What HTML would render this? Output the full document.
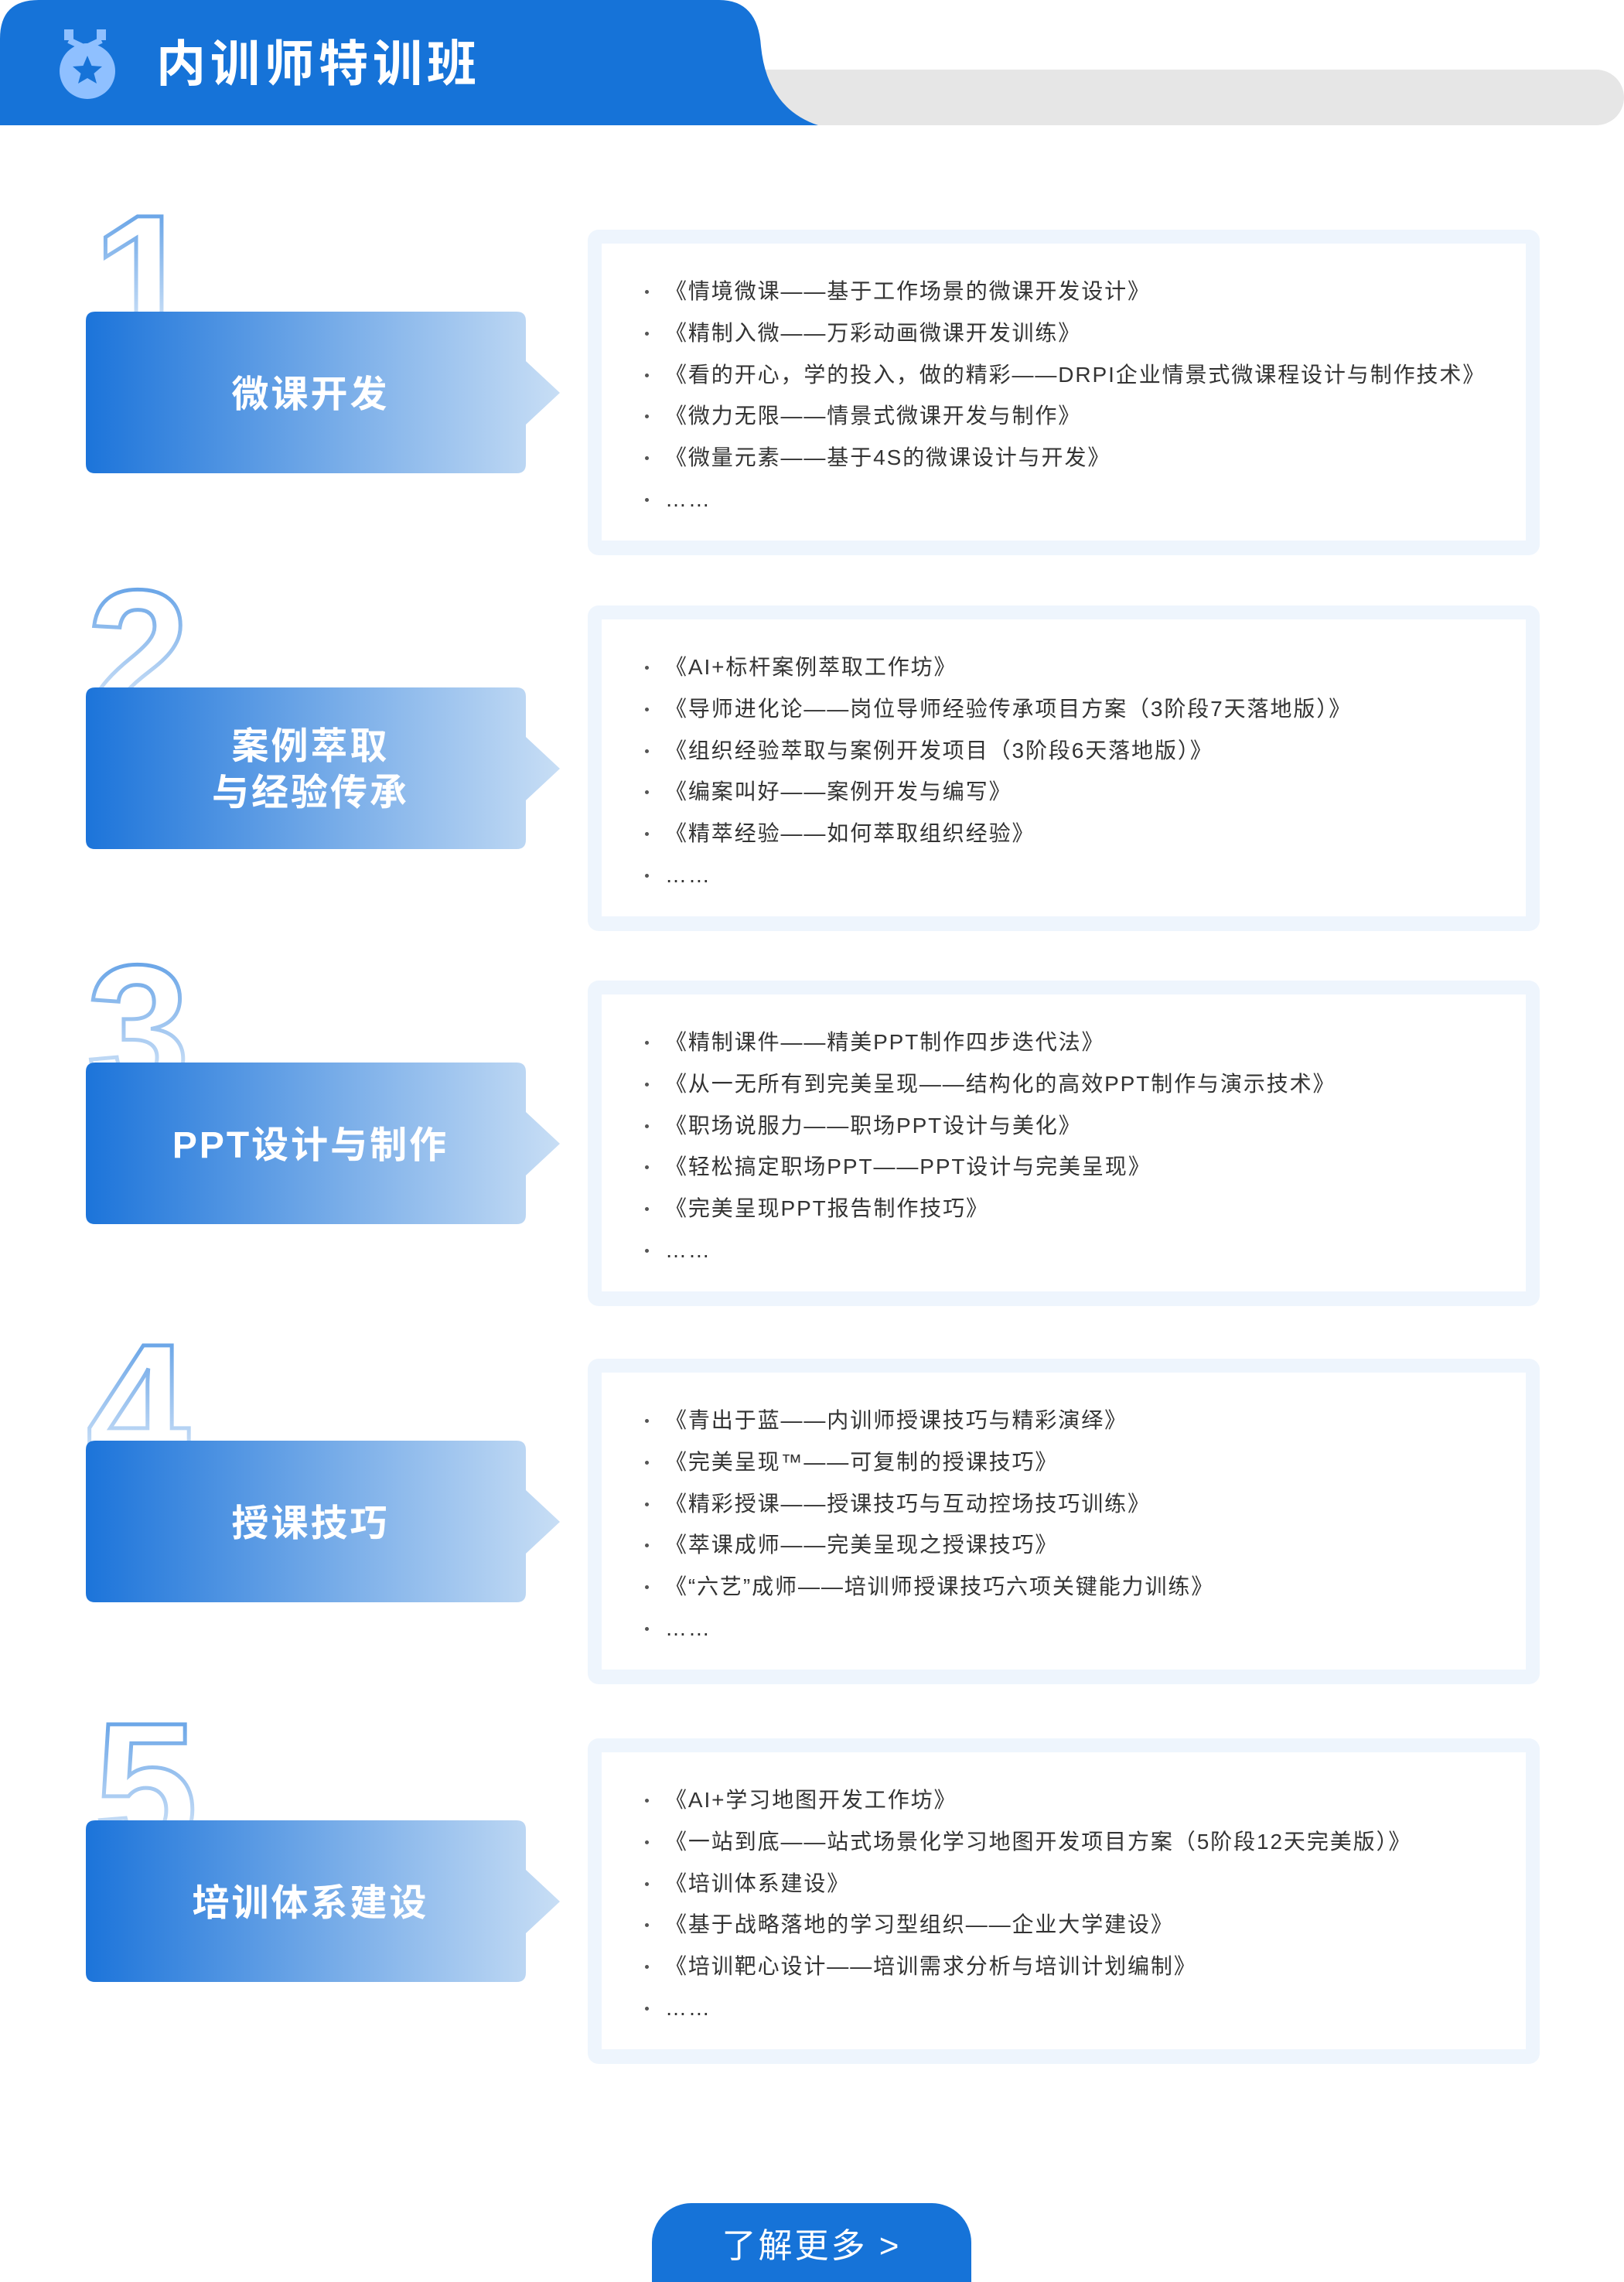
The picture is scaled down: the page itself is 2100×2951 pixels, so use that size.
<!DOCTYPE html>
<html><head><meta charset="utf-8">
<style>
html,body{margin:0;padding:0;background:#fff;}
body{width:2100px;height:2951px;position:relative;overflow:hidden;font-family:"Liberation Sans","Noto Sans CJK SC",sans-serif;}
.abs{position:absolute;}
.outer{position:absolute;left:760px;width:1231px;height:421px;background:#eef5fd;border-radius:14px;}
.inner{position:absolute;left:18px;top:18px;right:18px;bottom:19px;background:#fff;}
.lines{position:absolute;left:74px;top:62px;}
.ln{height:53.8px;line-height:36px;font-size:28px;color:#333;letter-spacing:1.9px;white-space:nowrap;position:relative;padding-left:26px;}
.ln:before{content:"";position:absolute;left:0;top:16px;width:5px;height:5px;border-radius:50%;background:#555;}
.lt{position:absolute;left:117px;width:569px;height:209px;display:flex;align-items:center;justify-content:center;text-align:center;color:#fff;font-weight:bold;font-size:48px;line-height:60px;letter-spacing:3px;}
</style></head><body>

<svg class="abs" style="left:0;top:0" width="2100" height="170">
  <rect x="900" y="90" width="1200" height="72" rx="36" fill="#e6e6e6"/>
  <path d="M0 50 Q0 0 50 0 L930 0 Q980 0 984 60 Q992 140 1058 162 L0 162 Z" fill="#1673d8"/>
  <rect x="83" y="38" width="12" height="14" fill="#8fc0ff"/>
  <rect x="125" y="38" width="12" height="14" fill="#8fc0ff"/>
  <path d="M89 52 L110 62 L131 52" stroke="#8fc0ff" stroke-width="8" fill="none"/>
  <circle cx="113" cy="92" r="36" fill="#8fc0ff"/>
  <polygon points="113,72 118.5,85 132,86 121.5,95 125,108 113,101 101,108 104.5,95 94,86 107.5,85" fill="#1673d8"/>
</svg>
<div class="abs" style="left:202px;top:38px;font-size:64px;font-weight:bold;color:#fff;letter-spacing:6px;line-height:90px;">内训师特训班</div>

<svg class="abs" style="left:0;top:0" width="800" height="2700">
  <defs>
    <linearGradient id="g" x1="0" y1="0" x2="1" y2="0">
      <stop offset="0" stop-color="#1c74da"/>
      <stop offset="1" stop-color="#c8def5"/>
    </linearGradient>
    <linearGradient id="d" x1="0" y1="0" x2="0" y2="1">
      <stop offset="0" stop-color="#4a92e2"/>
      <stop offset="1" stop-color="#4a92e2" stop-opacity="0"/>
    </linearGradient>
  </defs>
  <g font-family="Liberation Sans, sans-serif" font-weight="bold" font-size="240" fill="#fff" stroke="url(#d)" stroke-width="5">
    <text x="120" y="445">1</text>
    <text x="112" y="930">2</text>
    <text x="112" y="1415">3</text>
    <text x="112" y="1905">4</text>
    <text x="122" y="2395">5</text>
  </g>
  <g fill="url(#g)">
    <path id="lb" d="M123 403 L668 403 Q680 403 680 415 L680 467 L724 508 L680 549 L680 600 Q680 612 668 612 L123 612 Q111 612 111 600 L111 415 Q111 403 123 403 Z"/>
    <use href="#lb" y="486"/>
    <use href="#lb" y="971"/>
    <use href="#lb" y="1460"/>
    <use href="#lb" y="1951"/>
  </g>
</svg>

<div class="lt" style="top:406px;">微课开发</div>
<div class="lt" style="top:891px;">案例萃取<br>与经验传承</div>
<div class="lt" style="top:1377px;">PPT设计与制作</div>
<div class="lt" style="top:1866px;">授课技巧</div>
<div class="lt" style="top:2357px;">培训体系建设</div>

<div class="outer" style="top:297px"><div class="inner"></div><div class="lines">
<div class="ln">《情境微课——基于工作场景的微课开发设计》</div>
<div class="ln">《精制入微——万彩动画微课开发训练》</div>
<div class="ln">《看的开心，学的投入，做的精彩——DRPI企业情景式微课程设计与制作技术》</div>
<div class="ln">《微力无限——情景式微课开发与制作》</div>
<div class="ln">《微量元素——基于4S的微课设计与开发》</div>
<div class="ln">……</div>
</div></div>

<div class="outer" style="top:783px"><div class="inner"></div><div class="lines">
<div class="ln">《AI+标杆案例萃取工作坊》</div>
<div class="ln">《导师进化论——岗位导师经验传承项目方案（3阶段7天落地版）》</div>
<div class="ln">《组织经验萃取与案例开发项目（3阶段6天落地版）》</div>
<div class="ln">《编案叫好——案例开发与编写》</div>
<div class="ln">《精萃经验——如何萃取组织经验》</div>
<div class="ln">……</div>
</div></div>

<div class="outer" style="top:1268px"><div class="inner"></div><div class="lines">
<div class="ln">《精制课件——精美PPT制作四步迭代法》</div>
<div class="ln">《从一无所有到完美呈现——结构化的高效PPT制作与演示技术》</div>
<div class="ln">《职场说服力——职场PPT设计与美化》</div>
<div class="ln">《轻松搞定职场PPT——PPT设计与完美呈现》</div>
<div class="ln">《完美呈现PPT报告制作技巧》</div>
<div class="ln">……</div>
</div></div>

<div class="outer" style="top:1757px"><div class="inner"></div><div class="lines">
<div class="ln">《青出于蓝——内训师授课技巧与精彩演绎》</div>
<div class="ln">《完美呈现™——可复制的授课技巧》</div>
<div class="ln">《精彩授课——授课技巧与互动控场技巧训练》</div>
<div class="ln">《萃课成师——完美呈现之授课技巧》</div>
<div class="ln">《“六艺”成师——培训师授课技巧六项关键能力训练》</div>
<div class="ln">……</div>
</div></div>

<div class="outer" style="top:2248px"><div class="inner"></div><div class="lines">
<div class="ln">《AI+学习地图开发工作坊》</div>
<div class="ln">《一站到底——站式场景化学习地图开发项目方案（5阶段12天完美版）》</div>
<div class="ln">《培训体系建设》</div>
<div class="ln">《基于战略落地的学习型组织——企业大学建设》</div>
<div class="ln">《培训靶心设计——培训需求分析与培训计划编制》</div>
<div class="ln">……</div>
</div></div>

<div class="abs" style="left:843px;top:2849px;width:413px;height:102px;background:#1673d8;border-radius:51px 51px 0 0 / 51px 51px 0 0;"></div>
<div class="abs" style="left:843px;top:2849px;width:413px;height:102px;display:flex;align-items:center;justify-content:center;color:#fff;font-size:44px;letter-spacing:3px;">了解更多 &gt;</div>

</body></html>
